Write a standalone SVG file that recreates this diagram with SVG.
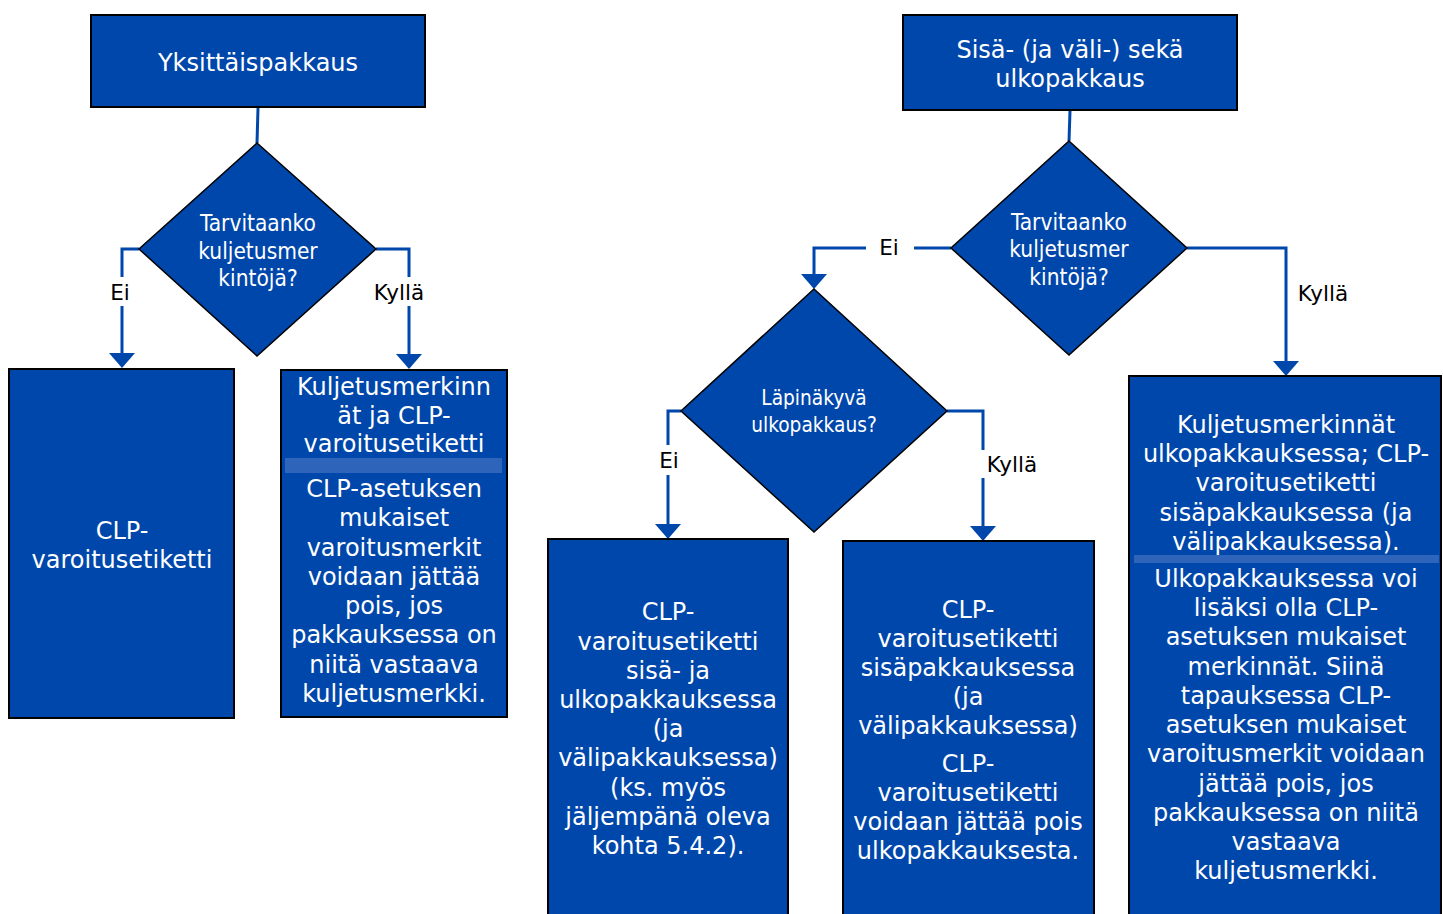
<svg xmlns="http://www.w3.org/2000/svg" width="1443" height="914" viewBox="0 0 1443 914">
<style>
.box{fill:#0047AB;stroke:#000;stroke-width:2}
.dia{fill:#0047AB;stroke:#000;stroke-width:1.5}
.bar{fill:#2E64B9}
.t{font-family:"DejaVu Sans","Verdana",sans-serif;font-size:24px;fill:#fff;text-anchor:middle}
.d{font-family:"DejaVu Sans Condensed","DejaVu Sans",sans-serif;font-stretch:condensed;font-size:22.5px;fill:#fff;text-anchor:middle}
.d2{font-size:20.7px}
.lbl{font-family:"DejaVu Sans","Verdana",sans-serif;font-size:21.5px;fill:#000;text-anchor:middle}
.c{fill:none;stroke:#0047AB;stroke-width:3}
.ah{fill:#0047AB}
</style>
<rect width="1443" height="914" fill="#fff"/>

<g id="connectors">
<line class="c" x1="258" y1="108" x2="257" y2="143"/>
<polyline class="c" points="139,249 122,249 122,277"/>
<line class="c" x1="122" y1="306" x2="122" y2="355"/>
<polygon class="ah" points="109,353 135,353 122,368"/>
<polyline class="c" points="376,249 409,249 409,277"/>
<line class="c" x1="409" y1="306" x2="409" y2="355"/>
<polygon class="ah" points="396,354 422,354 409,369"/>

<line class="c" x1="1070" y1="111" x2="1069" y2="141"/>
<polyline class="c" points="1187,248 1286,248 1286,362"/>
<polygon class="ah" points="1273,361 1299,361 1286,376"/>
<line class="c" x1="951" y1="248" x2="914" y2="248"/>
<polyline class="c" points="866,248 814,248 814,275"/>
<polygon class="ah" points="801,274 827,274 814,289"/>
<polyline class="c" points="681,411 668,411 668,445"/>
<line class="c" x1="668" y1="475" x2="668" y2="525"/>
<polygon class="ah" points="655,524 681,524 668,539"/>
<polyline class="c" points="947,411 983,411 983,450"/>
<line class="c" x1="983" y1="478" x2="983" y2="527"/>
<polygon class="ah" points="970,526 996,526 983,541"/>
</g>

<g id="labels">
<text class="lbl" x="120" y="300">Ei</text>
<text class="lbl" x="399" y="300">Kyllä</text>
<text class="lbl" x="889" y="255">Ei</text>
<text class="lbl" x="1323" y="301">Kyllä</text>
<text class="lbl" x="669" y="468">Ei</text>
<text class="lbl" x="1012" y="472">Kyllä</text>
</g>

<g id="n1">
<rect class="box" x="91" y="15" width="334" height="92"/>
<text class="t" x="258" y="71">Yksittäispakkaus</text>
</g>

<g id="n2">
<polygon class="dia" points="257,143 376,249 257,356 139,249"/>
<text class="d" x="258" y="231">Tarvitaanko</text>
<text class="d" x="258" y="259">kuljetusmer</text>
<text class="d" x="258" y="286">kintöjä?</text>
</g>

<g id="n3">
<rect class="box" x="9" y="369" width="225" height="349"/>
<text class="t" x="122" y="539">CLP-</text>
<text class="t" x="122" y="568">varoitusetiketti</text>
</g>

<g id="n4">
<rect class="box" x="281" y="370" width="226" height="347"/>
<text class="t" x="394" y="395">Kuljetusmerkinn</text>
<text class="t" x="394" y="424">ät ja CLP-</text>
<text class="t" x="394" y="452">varoitusetiketti</text>
<rect class="bar" x="285" y="458" width="217" height="15"/>
<text class="t" x="394" y="497">CLP-asetuksen</text>
<text class="t" x="394" y="526">mukaiset</text>
<text class="t" x="394" y="556">varoitusmerkit</text>
<text class="t" x="394" y="585">voidaan jättää</text>
<text class="t" x="394" y="614">pois, jos</text>
<text class="t" x="394" y="643">pakkauksessa on</text>
<text class="t" x="394" y="673">niitä vastaava</text>
<text class="t" x="394" y="702">kuljetusmerkki.</text>
</g>

<g id="n5">
<rect class="box" x="903" y="15" width="334" height="95"/>
<text class="t" x="1070" y="58">Sisä- (ja väli-) sekä</text>
<text class="t" x="1070" y="87">ulkopakkaus</text>
</g>

<g id="n6">
<polygon class="dia" points="1069,141 1187,248 1069,355 951,248"/>
<text class="d" x="1069" y="230">Tarvitaanko</text>
<text class="d" x="1069" y="257">kuljetusmer</text>
<text class="d" x="1069" y="285">kintöjä?</text>
</g>

<g id="n7">
<polygon class="dia" points="814,289 947,411 814,532 681,411"/>
<text class="d d2" x="814" y="405">Läpinäkyvä</text>
<text class="d d2" x="814" y="432">ulkopakkaus?</text>
</g>

<g id="n8">
<rect class="box" x="548" y="539" width="240" height="380"/>
<text class="t" x="668" y="620">CLP-</text>
<text class="t" x="668" y="650">varoitusetiketti</text>
<text class="t" x="668" y="679">sisä- ja</text>
<text class="t" x="668" y="708">ulkopakkauksessa</text>
<text class="t" x="668" y="737">(ja</text>
<text class="t" x="668" y="766">välipakkauksessa)</text>
<text class="t" x="668" y="796">(ks. myös</text>
<text class="t" x="668" y="825">jäljempänä oleva</text>
<text class="t" x="668" y="854">kohta 5.4.2).</text>
</g>

<g id="n9">
<rect class="box" x="843" y="541" width="251" height="380"/>
<text class="t" x="968" y="618">CLP-</text>
<text class="t" x="968" y="647">varoitusetiketti</text>
<text class="t" x="968" y="676">sisäpakkauksessa</text>
<text class="t" x="968" y="705">(ja</text>
<text class="t" x="968" y="734">välipakkauksessa)</text>
<text class="t" x="968" y="772">CLP-</text>
<text class="t" x="968" y="801">varoitusetiketti</text>
<text class="t" x="968" y="830">voidaan jättää pois</text>
<text class="t" x="968" y="859">ulkopakkauksesta.</text>
</g>

<g id="n10">
<rect class="box" x="1129" y="376" width="312" height="545"/>
<text class="t" x="1286" y="433">Kuljetusmerkinnät</text>
<text class="t" x="1286" y="462">ulkopakkauksessa; CLP-</text>
<text class="t" x="1286" y="491">varoitusetiketti</text>
<text class="t" x="1286" y="521">sisäpakkauksessa (ja</text>
<text class="t" x="1286" y="550">välipakkauksessa).</text>
<rect class="bar" x="1134" y="555" width="305" height="8"/>
<text class="t" x="1286" y="587">Ulkopakkauksessa voi</text>
<text class="t" x="1286" y="616">lisäksi olla CLP-</text>
<text class="t" x="1286" y="645">asetuksen mukaiset</text>
<text class="t" x="1286" y="675">merkinnät. Siinä</text>
<text class="t" x="1286" y="704">tapauksessa CLP-</text>
<text class="t" x="1286" y="733">asetuksen mukaiset</text>
<text class="t" x="1286" y="762">varoitusmerkit voidaan</text>
<text class="t" x="1286" y="792">jättää pois, jos</text>
<text class="t" x="1286" y="821">pakkauksessa on niitä</text>
<text class="t" x="1286" y="850">vastaava</text>
<text class="t" x="1286" y="879">kuljetusmerkki.</text>
</g>
</svg>
